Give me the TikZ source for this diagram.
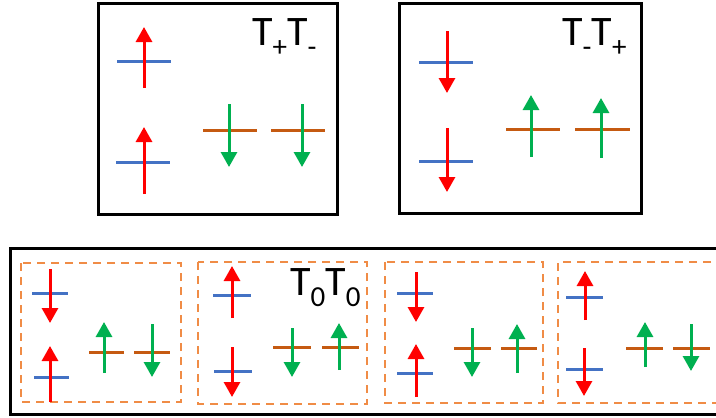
\documentclass[tikz,border=0pt]{standalone}
\usepackage{fontspec}
\setmainfont{Carlito}
\usetikzlibrary{arrows.meta}
\definecolor{lvlblue}{HTML}{4472C4}
\definecolor{lvlorange}{HTML}{C55A11}
\definecolor{spingreen}{HTML}{00B050}
\definecolor{spinred}{HTML}{FF0000}
\definecolor{dashorange}{RGB}{240,140,70}
\newcommand\subtxt[1]{\raisebox{-11pt}{\fontsize{29pt}{29pt}\selectfont #1}}
\begin{document}
\begin{tikzpicture}[x=1pt,y=-1pt,
  frame/.style={line width=3pt,black},
  dashframe/.style={line width=2.4pt,dashorange,dash pattern=on 8pt off 6pt},
  bluelvl/.style={line width=3pt,lvlblue},
  orangelvl/.style={line width=3pt,lvlorange},
  redspin/.style={line width=3pt,spinred,-{Triangle[width=16pt,length=15pt]}},
  greenspin/.style={line width=3pt,spingreen,-{Triangle[width=16pt,length=15pt]}},
  label/.style={inner sep=0pt,anchor=base west,font=\fontsize{42pt}{42pt}\selectfont}]
\useasboundingbox (0,0) rectangle (716,418);
\clip (0,0) rectangle (716,418);
% frames
\draw[frame] (98,3) rectangle (337,214);
\draw[frame] (399,3) rectangle (641,213);
\draw[frame] (730,248) -- (10,248) -- (10,414) -- (730,414);
\draw[dashframe] (21,263) rectangle (181,402);
\draw[dashframe] (198,262) rectangle (367,404);
\draw[dashframe] (385,262) rectangle (543,403);
\draw[dashframe] (725,262) -- (558,262) -- (558,403) -- (725,403);
% labels
\node[label] (tpm) at (252,45) {T\subtxt{+}T\subtxt{-}};
\node[label] (tmp) at (562,45) {T\subtxt{-}T\subtxt{+}};
\node[label] (tzz) at (290,295) {T\subtxt{0}T\subtxt{0}};
% box 1
\draw[bluelvl] (117,61) -- (171,61);
\draw[bluelvl] (116,162) -- (170,162);
\draw[orangelvl] (203,130) -- (257,130);
\draw[orangelvl] (271,130) -- (325,130);
\draw[redspin] (144,88) -- (144,27);
\draw[redspin] (144,194) -- (144,127);
\draw[greenspin] (229,104) -- (229,167);
\draw[greenspin] (302,104) -- (302,167);
% box 2
\draw[bluelvl] (419,62) -- (473,62);
\draw[bluelvl] (419,161) -- (473,161);
\draw[orangelvl] (506,129) -- (560,129);
\draw[orangelvl] (575,129) -- (630,129);
\draw[redspin] (447,31) -- (447,93);
\draw[redspin] (447,128) -- (447,192);
\draw[greenspin] (531,157) -- (531,95);
\draw[greenspin] (601,158) -- (601,98);
% dashed 1
\draw[bluelvl] (32,293) -- (68,293);
\draw[bluelvl] (34,377) -- (69,377);
\draw[orangelvl] (89,352) -- (124,352);
\draw[orangelvl] (134,352) -- (170,352);
\draw[redspin] (50,269) -- (50,323);
\draw[redspin] (50,402) -- (50,346);
\draw[greenspin] (104,373) -- (104,322);
\draw[greenspin] (152,324) -- (152,377);
% dashed 2
\draw[bluelvl] (213,295) -- (251,295);
\draw[bluelvl] (214,371) -- (252,371);
\draw[orangelvl] (273,347) -- (311,347);
\draw[orangelvl] (322,347) -- (359,347);
\draw[redspin] (232,318) -- (232,266);
\draw[redspin] (232,347) -- (232,397);
\draw[greenspin] (292,328) -- (292,377);
\draw[greenspin] (339,370) -- (339,323);
% dashed 3
\draw[bluelvl] (397,293) -- (433,293);
\draw[bluelvl] (397,373) -- (433,373);
\draw[orangelvl] (454,348) -- (491,348);
\draw[orangelvl] (501,348) -- (537,348);
\draw[redspin] (416,272) -- (416,322);
\draw[redspin] (416,397) -- (416,344);
\draw[greenspin] (472,328) -- (472,377);
\draw[greenspin] (517,373) -- (517,324);
% dashed 4
\draw[bluelvl] (566,297) -- (603,297);
\draw[bluelvl] (566,369) -- (603,369);
\draw[orangelvl] (626,348) -- (663,348);
\draw[orangelvl] (673,348) -- (710,348);
\draw[redspin] (585,320) -- (585,271);
\draw[redspin] (584,348) -- (584,396);
\draw[greenspin] (645,367) -- (645,322);
\draw[greenspin] (691,324) -- (691,371);
\end{tikzpicture}
\end{document}
